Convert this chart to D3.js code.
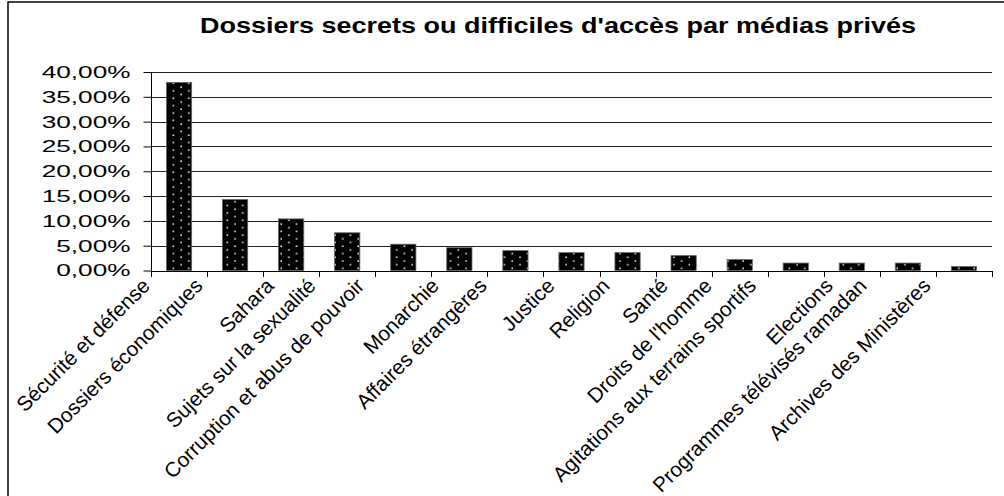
<!DOCTYPE html>
<html>
<head>
<meta charset="utf-8">
<script src="https://cdn.jsdelivr.net/npm/d3@7"></script>
<style>
  html, body { margin: 0; padding: 0; background: #fff; }
  svg { display: block; }
  text { font-family: "Liberation Sans", Arial, sans-serif; fill: #000; }
</style>
</head>
<body>
<svg id="chart" width="1004" height="496"></svg>
<script>
const title = "Dossiers secrets ou difficiles d'accès par médias privés";
const categories = [
  "Sécurité et défense",
  "Dossiers économiques",
  "Sahara",
  "Sujets sur la sexualité",
  "Corruption et abus de pouvoir",
  "Monarchie",
  "Affaires étrangères",
  "Justice",
  "Religion",
  "Santé",
  "Droits de l'homme",
  "Agitations aux terrains sportifs",
  "Elections",
  "Programmes télévisés ramadan",
  "Archives des Ministères"
];
const values = [37.9, 14.3, 10.4, 7.6, 5.3, 4.6, 4.0, 3.6, 3.6, 3.0, 2.2, 1.5, 1.5, 1.5, 0.8];
const yTicks = [0, 5, 10, 15, 20, 25, 30, 35, 40];

const svg = d3.select("#chart");

// frame
svg.append("rect")
  .attr("x", 8).attr("y", 2).attr("width", 1010).attr("height", 510)
  .attr("fill", "none").attr("stroke", "#000").attr("stroke-width", 1.5);

// dotted fill pattern
const defs = svg.append("defs");
const pat = defs.append("pattern")
  .attr("id", "dots").attr("patternUnits", "userSpaceOnUse")
  .attr("width", 15.4).attr("height", 7.4);
pat.append("rect").attr("width", 15.4).attr("height", 7.4).attr("fill", "#000");
pat.append("rect").attr("x", 3.3).attr("y", 1.3).attr("width", 1.5).attr("height", 1.5).attr("fill", "#fff");
pat.append("rect").attr("x", 11).attr("y", 5).attr("width", 1.5).attr("height", 1.5).attr("fill", "#fff");

const x = d3.scaleBand().domain(categories).range([151, 992]).paddingInner(0.55).paddingOuter(0.275);
const y = d3.scaleLinear().domain([0, 40]).range([270.5, 72]);

// gridlines
svg.append("g").selectAll("line").data(yTicks.filter(d => d > 0)).join("line")
  .attr("x1", 151).attr("x2", 992)
  .attr("y1", d => Math.round(y(d)) + 0.5).attr("y2", d => Math.round(y(d)) + 0.5)
  .attr("stroke", "#222").attr("stroke-width", 1);

// bars
svg.append("g").selectAll("rect").data(values).join("rect")
  .attr("x", (d, i) => x(categories[i]))
  .attr("width", x.bandwidth())
  .attr("y", d => y(d))
  .attr("height", d => y(0) - y(d))
  .attr("fill", "url(#dots)")
  .attr("stroke", "#666").attr("stroke-width", 0.8);

// y axis
const yAxis = svg.append("g").attr("transform", "translate(151.5,0)")
  .call(d3.axisLeft(y).tickValues(yTicks)
    .tickFormat(d => d.toFixed(2).replace(".", ",") + "%")
    .tickSize(8).tickPadding(13));
yAxis.select(".domain").attr("stroke", "#000").attr("d", `M0,${y(40)}V${y(0)}`);
yAxis.selectAll(".tick line").attr("stroke", "#000");
yAxis.selectAll(".tick text")
  .style("font-family", '"Liberation Sans", Arial, sans-serif')
  .style("font-size", "17px")
  .attr("fill", "#000")
  .each(function() {
    const len = this.getComputedTextLength();
    d3.select(this).attr("textLength", len * 1.54).attr("lengthAdjust", "spacingAndGlyphs");
  });

// x axis baseline and boundary ticks
const step = x.step();
const bounds = categories.map(c => x(c) - (step - x.bandwidth()) / 2).concat([x.range()[1]]);
const xg = svg.append("g");
xg.append("line").attr("x1", 151).attr("x2", 992)
  .attr("y1", Math.round(y(0)) + 0.5).attr("y2", Math.round(y(0)) + 0.5)
  .attr("stroke", "#000");
xg.selectAll("line.t").data(bounds).join("line").attr("class", "t")
  .attr("x1", d => Math.round(d) + 0.5).attr("x2", d => Math.round(d) + 0.5)
  .attr("y1", Math.round(y(0))).attr("y2", Math.round(y(0)) + 6)
  .attr("stroke", "#000");

// x labels, rotated -45
const labY = 287;
xg.selectAll("text").data(categories).join("text")
  .style("font-size", "20.7px")
  .attr("text-anchor", "end")
  .text(d => d)
  .each(function(d) {
    const L = this.getComputedTextLength();
    const cx = x(d) + x.bandwidth() / 2 - (8.8 + 0.107 * L);
    d3.select(this).attr("transform", `translate(${cx},${labY}) rotate(-45)`);
  });

// title
svg.append("text")
  .attr("x", 558).attr("y", 33)
  .attr("text-anchor", "middle")
  .style("font-size", "21.5px").style("font-weight", "bold")
  .text(title)
  .attr("textLength", 716).attr("lengthAdjust", "spacingAndGlyphs");
</script>
</body>
</html>
